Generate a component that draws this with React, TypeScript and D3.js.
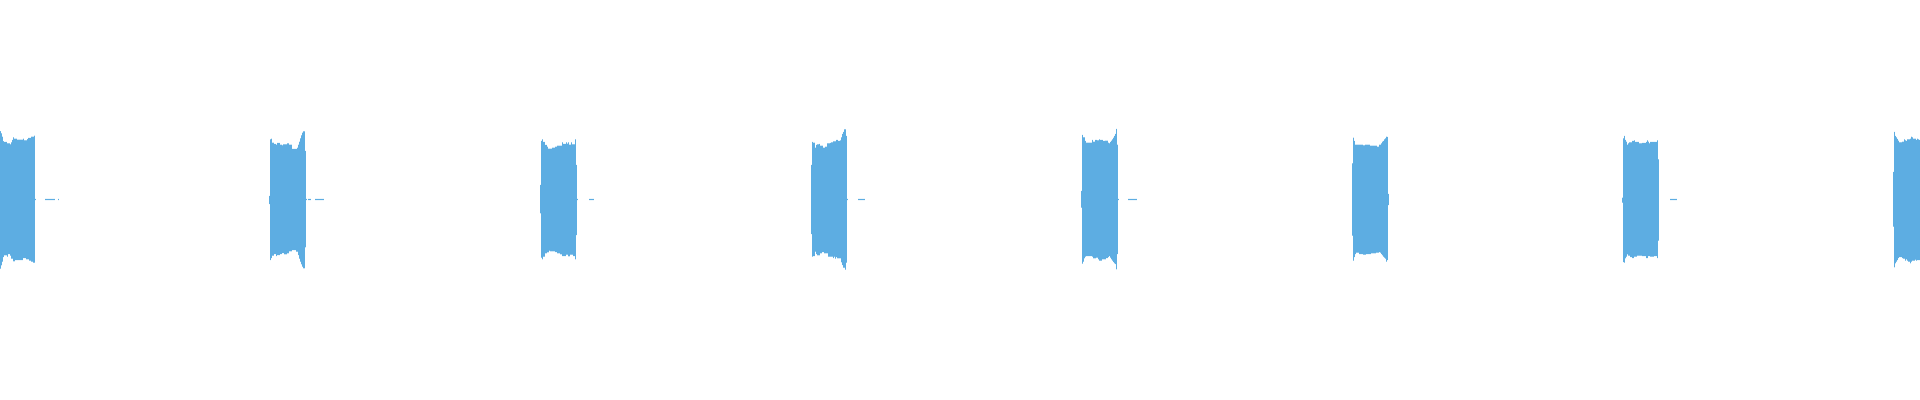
import React from "react";
import * as d3 from "d3";

// Waveform overview: one min/max bucket per column, amplitude in % of full scale
const totalBuckets = 1920;
const burstStarts = [0, 269, 540, 811, 1081, 1352, 1622, 1893];

const burst1Max = [34.2, 33.1, 31.4, 29.2, 28.8, 28.8, 28.8, 28.1, 28.1, 28.1, 27.6, 28.6, 29.8, 31.1, 30.4, 30.4, 30.4, 29.9, 29.9, 29.9, 29.9, 29.9, 29.9, 30.4, 29.6, 29.6, 29.6, 30.2, 30.8, 30.8, 30.8, 31.4, 31.4, 31.4, 31.9];
const burst1Min = [-34.6, -32.9, -31.1, -28.8, -27.9, -27.9, -27.9, -28.6, -27.3, -27.3, -28.1, -29.6, -29.6, -30.9, -30.9, -30.3, -30.3, -30.3, -30.3, -30.3, -30.3, -30.3, -30.3, -29.3, -29.3, -29.3, -29.9, -29.9, -29.9, -30.6, -30.6, -31.1, -31.1, -31.6, -31.6];

const burst2Max = [1.8, 30.1, 30.4, 28.4, 28.4, 27.8, 27.8, 27.4, 28.3, 28.3, 28.3, 27.4, 27.4, 27.1, 27.6, 27.6, 27.6, 27.6, 28.1, 28.1, 27.4, 27.4, 27.4, 25.3, 25.3, 25.3, 25.3, 25.3, 25.9, 27.4, 28.9, 30.6, 32.1, 33.4, 34.1, 34.1, 24.3];
const burst2Min = [-2.3, -30.3, -29.3, -28.1, -28.1, -27.3, -27.3, -28.3, -27.8, -27.8, -27.8, -27.3, -27.3, -26.8, -26.8, -27.4, -27.4, -27.4, -26.9, -26.9, -25.9, -25.9, -25.9, -25.3, -25.3, -25.3, -25.3, -26.1, -26.1, -27.8, -29.6, -31.1, -32.4, -33.6, -34.4, -34.4, -23.9];

const burst3Max = [7.3, 29.3, 30.1, 28.8, 28.8, 27.3, 27.3, 26.4, 25.4, 25.4, 25.4, 25.4, 25.9, 25.9, 25.9, 26.4, 26.4, 26.9, 26.9, 26.9, 26.9, 26.9, 28.6, 27.8, 27.8, 27.8, 28.6, 27.9, 28.6, 27.4, 27.4, 28.6, 27.6, 27.6, 27.6, 30.1, 17.3];
const burst3Min = [-6.9, -29.1, -29.9, -28.6, -28.6, -26.9, -26.9, -26.4, -26.4, -25.6, -25.9, -25.9, -25.9, -25.9, -25.9, -26.3, -26.3, -26.9, -26.9, -26.9, -27.4, -27.4, -28.3, -28.3, -28.3, -28.3, -27.6, -27.6, -28.4, -28.4, -27.6, -27.6, -27.6, -28.3, -28.3, -29.9, -17.8];

const burst4Max = [17.3, 28.8, 28.4, 28.4, 25.9, 27.3, 27.6, 27.6, 27.8, 26.9, 26.9, 26.9, 25.9, 25.9, 26.4, 26.4, 28.1, 28.1, 28.1, 28.3, 28.6, 28.6, 29.1, 29.1, 29.1, 29.8, 29.8, 29.3, 29.3, 29.6, 31.1, 32.8, 33.8, 35.1, 35.1, 31.8];
const burst4Min = [-17.3, -28.6, -28.3, -28.3, -26.1, -27.3, -27.9, -27.9, -27.9, -26.9, -26.9, -26.3, -26.3, -26.9, -26.9, -26.9, -26.9, -28.6, -28.6, -28.6, -28.6, -28.6, -29.3, -28.6, -29.6, -28.8, -29.4, -29.4, -29.4, -29.4, -31.4, -32.8, -34.1, -34.1, -35.1, -31.6];

const burst5Max = [4.3, 32.3, 31.1, 31.1, 29.3, 28.4, 28.4, 28.4, 28.4, 28.4, 28.4, 29.8, 28.9, 28.9, 29.8, 29.8, 29.6, 29.6, 30.1, 29.8, 29.8, 29.8, 29.3, 29.3, 29.4, 29.4, 29.4, 28.4, 28.1, 28.8, 29.4, 30.1, 30.9, 31.8, 32.8, 35.3, 27.4];
const burst5Min = [-4.1, -32.1, -31.1, -29.4, -28.6, -28.3, -28.3, -28.3, -28.3, -28.3, -28.3, -28.6, -29.4, -29.4, -29.4, -29.1, -29.1, -29.9, -30.6, -30.6, -30.6, -29.9, -29.9, -29.9, -29.9, -29.3, -29.3, -28.8, -28.3, -29.1, -29.9, -30.6, -31.3, -31.9, -32.3, -34.9, -27.3];

const burst6Max = [18.1, 30.9, 29.3, 27.4, 27.4, 27.4, 27.4, 27.4, 27.4, 27.4, 27.4, 27.1, 27.1, 27.4, 27.4, 27.4, 27.4, 27.4, 26.9, 26.9, 26.9, 26.9, 26.9, 26.9, 26.9, 26.4, 26.4, 27.4, 27.4, 28.1, 28.9, 29.3, 30.1, 30.6, 31.4, 31.3, 2.8];
const burst6Min = [-18.1, -30.6, -28.8, -27.3, -26.6, -26.6, -26.6, -27.3, -27.3, -27.3, -27.3, -27.6, -27.6, -27.6, -27.3, -27.3, -27.3, -27.3, -27.3, -26.9, -26.9, -26.9, -26.9, -26.9, -26.6, -26.6, -26.6, -26.3, -26.6, -27.3, -27.9, -28.6, -29.1, -29.6, -31.1, -30.3, -2.8];

const burst7Max = [0.9, 30.6, 31.8, 29.8, 28.9, 27.4, 28.1, 28.6, 28.6, 28.6, 29.3, 29.3, 29.6, 28.8, 28.8, 28.8, 28.8, 28.1, 28.1, 28.1, 28.3, 28.3, 28.3, 28.3, 28.8, 29.6, 28.9, 28.1, 28.8, 28.8, 28.8, 28.8, 28.8, 28.8, 28.8, 29.6, 20.1];
const burst7Min = [-1.6, -31.3, -31.6, -29.4, -28.6, -27.4, -28.1, -28.1, -28.8, -28.8, -29.3, -29.3, -28.6, -28.6, -28.6, -28.1, -28.1, -28.1, -28.1, -28.1, -28.3, -28.3, -28.3, -28.3, -29.3, -29.3, -28.3, -28.3, -28.6, -28.6, -28.6, -28.6, -28.3, -28.3, -28.3, -29.3, -20.6];

const burst8Max = [13.8, 33.8, 31.8, 31.1, 30.3, 29.4, 28.6, 28.6, 28.6, 28.9, 28.9, 30.1, 29.6, 29.3, 30.1, 30.1, 30.1, 30.4, 31.4, 31.1, 30.4, 30.4, 30.4, 29.8, 30.4, 30.1, 29.8];
const burst8Min = [-13.6, -33.9, -31.9, -31.1, -30.3, -29.3, -28.8, -28.8, -28.8, -29.3, -29.6, -29.6, -30.6, -29.9, -30.6, -31.1, -31.1, -31.9, -31.1, -30.6, -30.6, -30.6, -30.1, -30.6, -30.3, -30.3, -30.3];

// low-level noise stretches between the bursts: [startBucket, endBucket]
const noiseSegments = [
  [34, 36], [45, 55], [58, 59],
  [306, 307], [308, 311], [315, 324],
  [577, 578], [589, 594],
  [847, 848], [858, 865],
  [1118, 1119], [1128, 1137],
  [1670, 1677],
];
const noiseLevel = 0.3;

const burstMax = [burst1Max, burst2Max, burst3Max, burst4Max, burst5Max, burst6Max, burst7Max, burst8Max];
const burstMin = [burst1Min, burst2Min, burst3Min, burst4Min, burst5Min, burst6Min, burst7Min, burst8Min];

const WIDTH = 1920;
const HEIGHT = 400;
const COLOR = "#5dade2";

export default function App() {
  const x = d3.scaleLinear().domain([0, totalBuckets]).range([0, WIDTH]);
  const y = d3.scaleLinear().domain([-100, 100]).range([HEIGHT - 0.5, -0.5]);
  const bw = x(1) - x(0);

  const bars: { key: string; x: number; y0: number; y1: number }[] = [];
  burstStarts.forEach((s, b) => {
    const mx = burstMax[b];
    const mn = burstMin[b];
    mx.forEach((v, i) => {
      bars.push({ key: `b${b}-${i}`, x: x(s + i), y0: y(v), y1: y(mn[i]) });
    });
  });

  return (
    <svg
      width={WIDTH}
      height={HEIGHT}
      style={{ position: "absolute", left: 0, top: 0, display: "block", background: "#fff" }}
    >
      <g fill={COLOR}>
        {bars.map((d) => (
          <rect key={d.key} x={d.x} y={d.y0} width={bw} height={Math.max(1, d.y1 - d.y0)} />
        ))}
        {noiseSegments.map(([a, b], i) => (
          <rect
            key={`n${i}`}
            x={x(a)}
            y={y(noiseLevel)}
            width={x(b) - x(a)}
            height={Math.max(1, y(-noiseLevel) - y(noiseLevel))}
          />
        ))}
      </g>
    </svg>
  );
}
